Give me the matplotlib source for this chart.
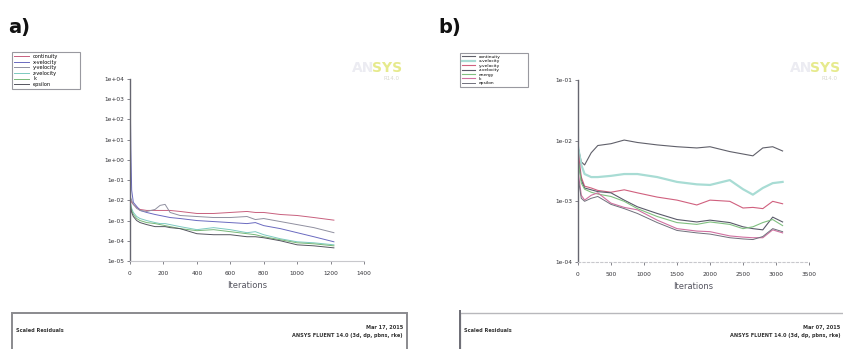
import numpy as np
import matplotlib
matplotlib.use("Agg")
import matplotlib.pyplot as plt
from matplotlib.patches import Rectangle

# ---------------- data (log10 of scaled residuals) -------------
a_iter = [0, 5, 10, 20, 40, 60, 100, 150, 180, 210, 240, 300, 400, 500, 600, 700, 750, 800, 900, 1000, 1100, 1220]
a_continuity = [-1.9, -2.0, -2.1, -2.2, -2.35, -2.45, -2.5, -2.5, -2.5, -2.5, -2.5, -2.55, -2.65, -2.65, -2.6, -2.55, -2.6, -2.6, -2.7, -2.75, -2.85, -2.98]
a_xvel = [4.0, 0.5, -1.5, -2.1, -2.3, -2.5, -2.6, -2.7, -2.75, -2.8, -2.85, -2.9, -3.0, -3.05, -3.1, -3.15, -3.1, -3.25, -3.4, -3.6, -3.8, -4.05]
a_yvel = [-1.8, -1.9, -2.0, -2.2, -2.4, -2.5, -2.55, -2.45, -2.25, -2.2, -2.6, -2.75, -2.8, -2.85, -2.85, -2.8, -2.95, -2.9, -3.05, -3.2, -3.35, -3.6]
a_zvel = [-2.0, -2.2, -2.4, -2.6, -2.8, -2.9, -3.0, -3.1, -3.15, -3.15, -3.2, -3.3, -3.45, -3.35, -3.45, -3.6, -3.55, -3.7, -3.9, -4.05, -4.1, -4.2]
a_k = [-2.1, -2.3, -2.5, -2.7, -2.9, -3.0, -3.1, -3.15, -3.2, -3.25, -3.3, -3.4, -3.5, -3.45, -3.55, -3.65, -3.7, -3.8, -3.95, -4.1, -4.15, -4.25]
a_epsilon = [-2.2, -2.4, -2.6, -2.8, -3.0, -3.1, -3.2, -3.3, -3.3, -3.3, -3.35, -3.4, -3.65, -3.7, -3.7, -3.8, -3.8, -3.85, -4.0, -4.2, -4.25, -4.35]
a_labels = ["continuity", "x-velocity", "y-velocity", "z-velocity", "k", "epsilon"]

b_iter = [0, 50, 100, 200, 300, 500, 700, 900, 1200, 1500, 1800, 2000, 2300, 2500, 2650, 2800, 2950, 3100]
b_continuity = [-2.1, -2.35, -2.4, -2.2, -2.08, -2.05, -1.99, -2.03, -2.07, -2.1, -2.12, -2.1, -2.18, -2.22, -2.25, -2.12, -2.1, -2.17]
b_xvel = [-2.1, -2.4, -2.55, -2.6, -2.6, -2.58, -2.55, -2.55, -2.6, -2.68, -2.72, -2.73, -2.65, -2.8, -2.89, -2.78, -2.7, -2.68]
b_yvel = [-2.15, -2.6, -2.75, -2.78, -2.82, -2.85, -2.81, -2.86, -2.93, -2.98, -3.06, -2.98, -3.0, -3.11, -3.1, -3.12, -3.0, -3.04]
b_zvel = [-2.3, -2.65, -2.78, -2.81, -2.84, -2.86, -2.98, -3.09, -3.2, -3.3, -3.34, -3.31, -3.35, -3.42, -3.45, -3.47, -3.26, -3.34]
b_energy = [-2.3, -2.7, -2.8, -2.85, -2.88, -2.92, -3.0, -3.12, -3.25, -3.35, -3.38, -3.34, -3.38, -3.45, -3.42, -3.35, -3.3, -3.4]
b_k = [-2.5, -2.9, -2.98, -2.9, -2.86, -3.03, -3.1, -3.14, -3.31, -3.45, -3.49, -3.5, -3.57, -3.59, -3.6, -3.6, -3.47, -3.52]
b_epsilon = [-2.6, -2.95, -3.0, -2.95, -2.92, -3.05, -3.12, -3.2, -3.35, -3.48, -3.52, -3.54, -3.6, -3.62, -3.63, -3.58, -3.45, -3.5]
b_labels = ["continuity", "x-velocity", "y-velocity", "z-velocity", "energy", "k", "epsilon"]

a_yticks = [4, 3, 2, 1, 0, -1, -2, -3, -4, -5]
a_yticklabels = ["1e+04", "1e+03", "1e+02", "1e+01", "1e+00", "1e-01", "1e-02", "1e-03", "1e-04", "1e-05"]
a_xticks = [0, 200, 400, 600, 800, 1000, 1200, 1400]
b_yticks = [-1, -2, -3, -4]
b_yticklabels = ["1e-01", "1e-02", "1e-03", "1e-04"]
b_xticks = [0, 500, 1000, 1500, 2000, 2500, 3000, 3500]

W, H = 843, 349
fig = plt.figure(figsize=(W / 100, H / 100), dpi=100)
fig.patch.set_facecolor("white")


def fx(px):
    return px / W


def fy(py):
    return 1 - py / H


def style_axes(ax, xticks, yticks, yticklabels, xlim, ylim, dotted_bottom=False):
    ax.set_yscale("log")
    ax.set_xlim(*xlim)
    ax.set_ylim(10.0 ** ylim[0], 10.0 ** ylim[1])
    ax.set_yticks([10.0 ** t for t in yticks])
    ax.set_yticklabels(yticklabels)
    ax.yaxis.set_minor_locator(matplotlib.ticker.NullLocator())
    ax.set_xticks(xticks)
    ax.set_xticklabels([str(t) for t in xticks])
    for s in ["top", "right"]:
        ax.spines[s].set_visible(False)
    ax.spines["left"].set_color("#666670")
    ax.spines["left"].set_linewidth(1.0)
    ax.spines["bottom"].set_color("#c8c8cc")
    ax.spines["bottom"].set_linewidth(0.8)
    if dotted_bottom:
        ax.spines["bottom"].set_linestyle((0, (2, 2)))
    ax.tick_params(axis="both", labelsize=4.2, colors="#707078", labelcolor="#333338",
                   length=2, width=0.6, pad=2)
    ax.tick_params(axis="x", pad=5)
    ax.set_xlabel("Iterations", fontsize=6, color="#555560", labelpad=4)
    ax.patch.set_alpha(0)


# ---------------- panel a -------------
ax1 = fig.add_axes([fx(130), fy(261), fx(364 - 130), (261 - 79) / H])
a_series = [a_continuity, a_xvel, a_yvel, a_zvel, a_k, a_epsilon]
a_colors = ["#c8607e", "#6a6ac0", "#9090a0", "#7ccac0", "#78b878", "#55555f"]
for s, c, lab in zip(a_series, a_colors, a_labels):
    ax1.plot(a_iter, [10.0 ** v for v in s], color=c, lw=0.7, label=lab)
style_axes(ax1, a_xticks, a_yticks, a_yticklabels, (0, 1400), (-5, 4))

leg1 = ax1.legend(loc="upper left", bbox_to_anchor=(fx(12), fy(95), fx(80 - 12), (95 - 52) / H),
                  bbox_transform=fig.transFigure, mode="expand", fontsize=3.6,
                  labelspacing=0.12, handlelength=3.0, handletextpad=0.8, borderpad=0.4,
                  frameon=True, fancybox=False, borderaxespad=0)
leg1.get_frame().set_edgecolor("#808088")
leg1.get_frame().set_linewidth(0.8)

# ---------------- panel b -------------
ax2 = fig.add_axes([fx(578), fy(262), fx(809 - 578), (262 - 80) / H])
b_series = [b_continuity, b_xvel, b_yvel, b_zvel, b_energy, b_k, b_epsilon]
b_colors = ["#60606a", "#a8dcd4", "#d0607e", "#5a5a6a", "#80c080", "#d070a0", "#70707c"]
b_widths = [0.8, 1.6, 0.8, 0.8, 0.8, 0.8, 0.7]
for s, c, w, lab in zip(b_series, b_colors, b_widths, b_labels):
    ax2.plot(b_iter, [10.0 ** v for v in s], color=c, lw=w, label=lab)
style_axes(ax2, b_xticks, b_yticks, b_yticklabels, (0, 3500), (-4, -1), dotted_bottom=True)

leg2 = ax2.legend(loc="upper left", bbox_to_anchor=(fx(460), fy(96), fx(528 - 460), (96 - 53) / H),
                  bbox_transform=fig.transFigure, mode="expand", fontsize=3.2,
                  labelspacing=0.08, handlelength=3.0, handletextpad=0.8, borderpad=0.35,
                  frameon=True, fancybox=False, borderaxespad=0)
leg2.get_frame().set_edgecolor("#808088")
leg2.get_frame().set_linewidth(0.8)

# ---------------- panel labels -------------
fig.text(fx(8), fy(33), "a)", fontsize=14, fontweight="bold", color="#111111")
fig.text(fx(438), fy(33), "b)", fontsize=14, fontweight="bold", color="#111111")

# ---------------- ANSYS logos -------------
for xr in [402, 840]:
    fig.text(fx(xr), fy(72), "SYS", fontsize=10, fontweight="bold", color="#e6ea8c",
             ha="right", va="baseline")
    fig.text(fx(xr - 28), fy(72), "AN", fontsize=10, fontweight="bold", color="#ececf2",
             ha="right", va="baseline")
    fig.text(fx(xr - 2), fy(80), "R14.0", fontsize=4, color="#d8d8d0", ha="right", va="baseline")

# ---------------- bottom info boxes -------------
fig.patches.append(Rectangle((fx(12), fy(352)), fx(407 - 12), (352 - 313) / H,
                             transform=fig.transFigure, facecolor="white",
                             edgecolor="#8a8a8e", linewidth=1.4))
fig.text(fx(16), fy(332), "Scaled Residuals", fontsize=3.6, fontweight="bold", color="#333")
fig.text(fx(403), fy(329), "Mar 17, 2015", fontsize=3.6, fontweight="bold", color="#333", ha="right")
fig.text(fx(403), fy(337), "ANSYS FLUENT 14.0 (3d, dp, pbns, rke)", fontsize=3.6,
         fontweight="bold", color="#333", ha="right")

fig.patches.append(Rectangle((fx(460), fy(352)), fx(900 - 460), (352 - 313) / H,
                             transform=fig.transFigure, facecolor="white",
                             edgecolor="#b8b8bc", linewidth=1.0))
fig.patches.append(Rectangle((fx(459), fy(352)), fx(2), (352 - 310) / H,
                             transform=fig.transFigure, facecolor="#707078",
                             edgecolor="none"))
fig.text(fx(464), fy(332), "Scaled Residuals", fontsize=3.6, fontweight="bold", color="#333")
fig.text(fx(840), fy(329), "Mar 07, 2015", fontsize=3.6, fontweight="bold", color="#333", ha="right")
fig.text(fx(840), fy(337), "ANSYS FLUENT 14.0 (3d, dp, pbns, rke)", fontsize=3.6,
         fontweight="bold", color="#333", ha="right")

fig.savefig("out.png", dpi=100, facecolor="white")
